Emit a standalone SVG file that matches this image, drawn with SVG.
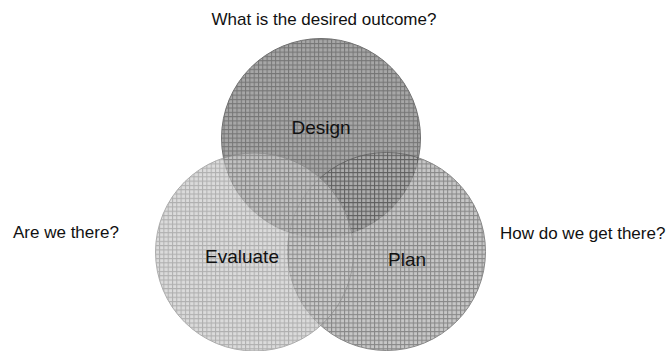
<svg xmlns="http://www.w3.org/2000/svg" width="669" height="351" viewBox="0 0 669 351">
<style>
text{font-family:"Liberation Sans",Arial,sans-serif;fill:#111;}
.q{font-size:17px;}
.lbl{font-size:19px;text-anchor:middle;}
.circ{opacity:0.7;}
</style>
<defs>
<pattern id="pD" width="4.3" height="4.3" patternUnits="userSpaceOnUse">
<rect width="4.3" height="4.3" fill="#828282"/>
<path d="M0 0.5H4.3M0.5 0V4.3" stroke="#3c3c3c" stroke-width="1"/>
</pattern>
<pattern id="pE" width="4.3" height="4.3" patternUnits="userSpaceOnUse">
<rect width="4.3" height="4.3" fill="#cccccc"/>
<path d="M0 0.5H4.3M0.5 0V4.3" stroke="#8e8e8e" stroke-width="1"/>
</pattern>
<pattern id="pP" width="4.3" height="4.3" patternUnits="userSpaceOnUse">
<rect width="4.3" height="4.3" fill="#b0b0b0"/>
<path d="M0 0.5H4.3M0.5 0V4.3" stroke="#555" stroke-width="1"/>
</pattern>
</defs>
<rect width="669" height="351" fill="#fff"/>
<g id="design" class="circ">
<circle cx="321" cy="138" r="99.5" fill="url(#pD)" stroke="#333" stroke-width="1"/>
</g>
<g id="plan" class="circ">
<circle cx="386.5" cy="251.5" r="99" fill="url(#pP)" stroke="#555" stroke-width="1"/>
</g>
<g id="evaluate" class="circ">
<circle cx="254.5" cy="252" r="99" fill="url(#pE)" stroke="#8a8a8a" stroke-width="1"/>
</g>
<g id="connectors"></g>
<g id="labels">
<text class="lbl" x="321" y="134">Design</text>
<text class="lbl" x="242" y="263">Evaluate</text>
<text class="lbl" x="407" y="266">Plan</text>
</g>
<g id="questions">
<text class="q" x="324" y="25" text-anchor="middle">What is the desired outcome?</text>
<text class="q" x="13" y="238">Are we there?</text>
<text class="q" x="500" y="239">How do we get there?</text>
</g>
</svg>
